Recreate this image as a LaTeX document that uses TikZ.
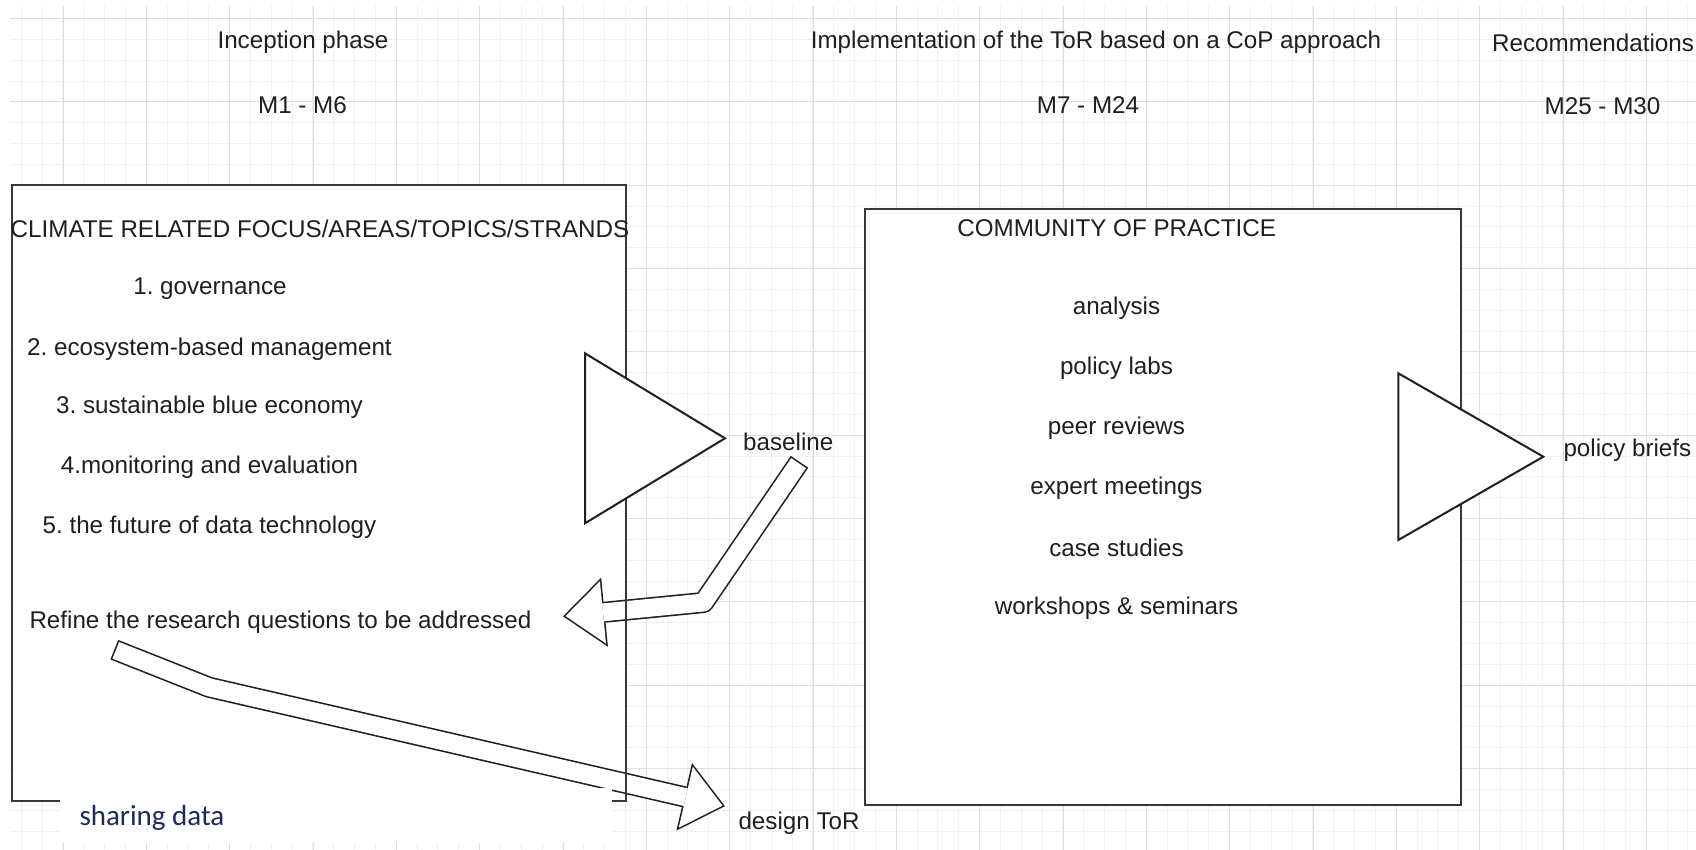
\documentclass[tikz,border=0pt]{standalone}
\usepackage{fontspec}
\setmainfont{Liberation Sans}
\newfontfamily\notefont{Carlito}
\usetikzlibrary{arrows.meta}
\definecolor{notecolor}{RGB}{30,42,90}
\frenchspacing

\begin{document}
\begin{tikzpicture}[x=1pt,y=-1pt,
    lbl/.style={inner sep=0pt, text=black!88, font=\fontsize{24.2}{29}\selectfont},
    panel/.style={fill=white, inner sep=0pt, outer sep=0pt, anchor=north west},
    frame/.style={draw=black!78, line width=2pt},
    wedge/.style={draw=black!88, line width=2pt, fill=white},
    flexout/.style={line width=21.1pt, black!88, line join=round,
      -{Triangle[length=41.75pt,width=69.4pt,line width=0pt]}},
    flexin/.style={line width=17.9pt, white, line join=round,
      shorten <=1.6pt, shorten >=2.5pt,
      -{Triangle[length=37.65pt,width=62.6pt,line width=0pt]}}]
  \useasboundingbox (0,0) rectangle (1696,850);
  \fill[white] (0,0) rectangle (1696,850);

  % grid paper
  \begin{scope}
    \clip (10,7) rectangle (1696,850);
    \foreach \i in {0,...,81}
      \draw[black!6, line width=1pt] (0.5+20.833*\i,0) -- ++(0,850);
    \foreach \j in {0,...,41}
      \draw[black!6, line width=1pt] (0,-2.3+20.833*\j) -- ++(1696,0);
    \foreach \i in {0,...,20}
      \draw[black!13, line width=1pt] (63+83.333*\i,0) -- ++(0,850);
    \foreach \j in {0,...,10}
      \draw[black!13, line width=1pt] (0,18.5+83.333*\j) -- ++(1696,0);
  \end{scope}

  % phases
  \node[lbl] (phase1) at (303,42) {Inception phase};
  \node[lbl] (month1) at (302.5,105) {M1 - M6};
  \node[lbl] (phase2) at (1096,42) {Implementation of the ToR based on a CoP approach};
  \node[lbl] (month2) at (1088,105) {M7 - M24};
  \node[lbl, anchor=west] (phase3) at (1492,43) {Recommendations};
  \node[lbl] (month3) at (1602.5,106) {M25 - M30};

  % boxes
  \node[panel, minimum width=614pt, minimum height=616pt] (focus) at (11.7,185) {};
  \node[panel, minimum width=596pt, minimum height=595.5pt] (cop) at (864.6,209.5) {};

  % block arrows
  \coordinate (bltail) at (799.5,461.8);
  \coordinate (blbend) at (703.6,602.5);
  \coordinate (blhead) at (563,616.3);
  \draw[flexout] (bltail) -- (blbend) -- (blhead);
  \draw[flexin] (bltail) -- (blbend) -- (blhead);
  \coordinate (rqtail) at (114.3,649.7);
  \coordinate (rqbend) at (209.2,687.3);
  \coordinate (rqhead) at (724.9,806.2);
  \draw[flexout] (rqtail) -- (rqbend) -- (rqhead);
  \draw[flexin] (rqtail) -- (rqbend) -- (rqhead);

  \draw[frame] (focus.north west) rectangle (focus.south east);
  \draw[frame] (cop.north west) rectangle (cop.south east);

  % output triangles
  \draw[wedge] (585,353.3) -- (585,523.3) -- (725,438.3) -- cycle;
  \draw[wedge] (1398.3,373.3) -- (1398.3,540) -- (1543.3,456.7) -- cycle;

  % focus areas
  \node[lbl] (focustitle) at (320,228.5) {CLIMATE RELATED FOCUS/AREAS/TOPICS/STRANDS};
  \node[lbl] (area1) at (210,289) {1. governance};
  \node[lbl] (area2) at (209.5,349) {2. ecosystem-based management};
  \node[lbl] (area3) at (209.5,407.5) {3. sustainable blue economy};
  \node[lbl] (area4) at (209.5,467) {4.monitoring and evaluation};
  \node[lbl] (area5) at (209.5,527) {5. the future of data technology};
  \node[lbl, anchor=west] (refine) at (29.3,622) {Refine the research questions to be addressed};

  % community of practice
  \node[lbl] (coptitle) at (1116.6,228) {COMMUNITY OF PRACTICE};
  \node[lbl] (act1) at (1116.5,308) {analysis};
  \node[lbl] (act2) at (1116.5,368) {policy labs};
  \node[lbl] (act3) at (1116.5,428) {peer reviews};
  \node[lbl] (act4) at (1116.5,488) {expert meetings};
  \node[lbl] (act5) at (1116.5,548) {case studies};
  \node[lbl] (act6) at (1116.5,608) {workshops \& seminars};

  % outputs
  \node[lbl, anchor=west] (baseline) at (743,442) {baseline};
  \node[lbl, anchor=west] (briefs) at (1563.3,450) {policy briefs};
  \node[lbl, anchor=west] (design) at (738.3,823) {design ToR};

  % note
  \fill[white] (60,788) rectangle (612,843);
  \node[inner sep=0pt, anchor=west, text=notecolor, font=\notefont\fontsize{29}{34}\selectfont] (sharing) at (79.3,818) {sharing data};
\end{tikzpicture}
\end{document}
